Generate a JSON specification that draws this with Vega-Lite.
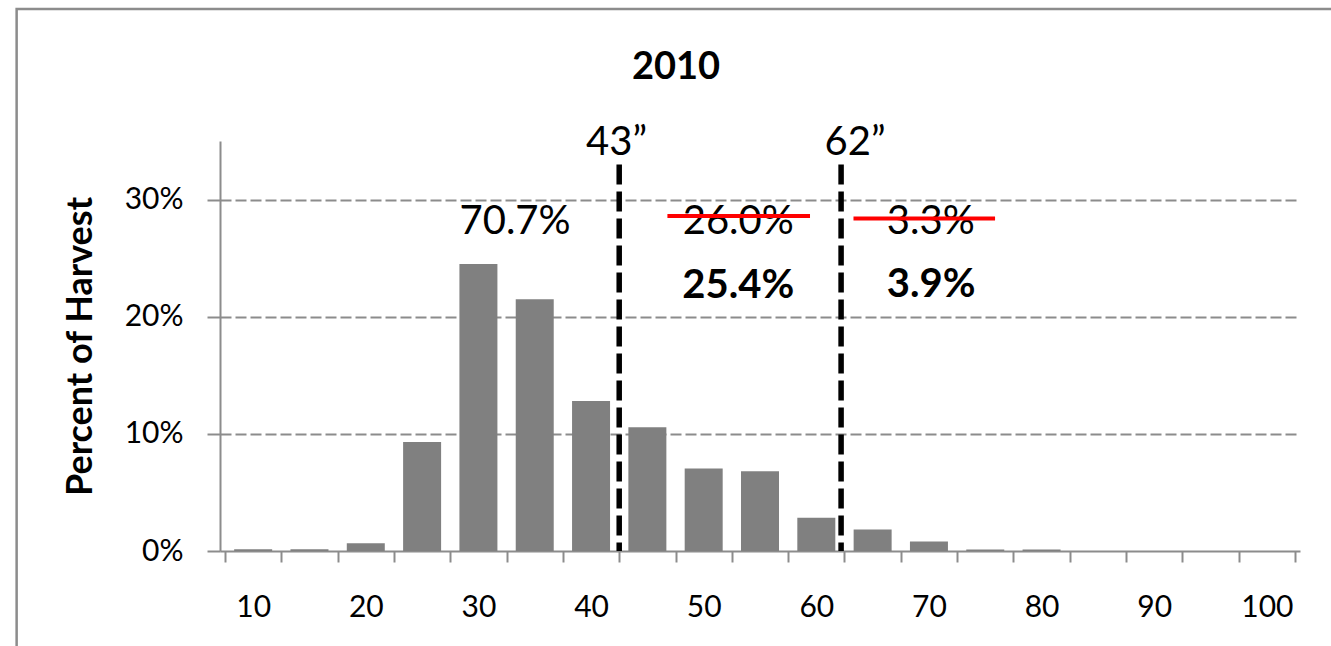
{
  "$schema": "https://vega.github.io/schema/vega-lite/v6.json",
  "width": 1080,
  "height": 410,
  "autosize": {"type": "none"},
  "padding": {"left": 220, "top": 141, "right": 31, "bottom": 95},
  "background": "white",
  "title": {"text": "2010", "font": "Lato", "fontSize": 38, "fontWeight": "bold", "color": "black", "anchor": "middle", "frame": "group", "dx": -84, "baseline": "alphabetic", "offset": -108.75},
  "config": {"view": {"stroke": null}},
  "layer": [
    {
      "data": {"values": [{"frame": "border"}]},
      "mark": {"type": "rect", "fill": null, "stroke": "#8c8c8c", "strokeWidth": 2.5, "clip": false},
      "encoding": {
        "x": {"datum": -11, "type": "quantitative"},
        "x2": {"datum": 106},
        "y": {"datum": 0.4626, "type": "quantitative"},
        "y2": {"datum": -0.093}
      }
    },
    {
      "data": {"values": [
        {"length": 10, "pct": 0.0016},
        {"length": 15, "pct": 0.0016},
        {"length": 20, "pct": 0.0066},
        {"length": 25, "pct": 0.093},
        {"length": 30, "pct": 0.245},
        {"length": 35, "pct": 0.215},
        {"length": 40, "pct": 0.128},
        {"length": 45, "pct": 0.1056},
        {"length": 50, "pct": 0.0705},
        {"length": 55, "pct": 0.068},
        {"length": 60, "pct": 0.0284},
        {"length": 65, "pct": 0.0184},
        {"length": 70, "pct": 0.0082},
        {"length": 75, "pct": 0.0012},
        {"length": 80, "pct": 0.0012},
        {"length": 85, "pct": 0},
        {"length": 90, "pct": 0},
        {"length": 95, "pct": 0},
        {"length": 100, "pct": 0}
      ]},
      "mark": {"type": "bar", "width": 38, "orient": "vertical", "fill": "#808080"},
      "encoding": {
        "x": {
          "field": "length", "type": "quantitative",
          "scale": {"domain": [7.5, 102.5], "nice": false, "zero": false},
          "axis": {
            "title": null,
            "values": [7.5, 10, 12.5, 17.5, 20, 22.5, 27.5, 30, 32.5, 37.5, 40, 42.5, 47.5, 50, 52.5, 57.5, 60, 62.5, 67.5, 70, 72.5, 77.5, 80, 82.5, 87.5, 90, 92.5, 97.5, 100, 102.5],
            "tickCount": 100,
            "grid": false,
            "domainColor": "#8c8c8c", "domainWidth": 2,
            "tickColor": "#8c8c8c", "tickWidth": 2, "tickSize": 11,
            "tickOpacity": {"condition": {"test": "datum.value % 10 == 0", "value": 0}, "value": 1},
            "labelExpr": "datum.value % 10 == 0 ? datum.label : ''",
            "labelFont": "Lato", "labelFontSize": 30, "labelColor": "black",
            "labelPadding": 30, "labelOverlap": false, "labelFlush": false
          }
        },
        "y": {
          "field": "pct", "type": "quantitative",
          "scale": {"domain": [0, 0.35], "nice": false},
          "axis": {
            "title": "Percent of Harvest",
            "values": [0, 0.1, 0.2, 0.3],
            "format": ".0%",
            "grid": true, "gridDash": [11, 4], "gridColor": "#8c8c8c", "gridWidth": 2,
            "gridOpacity": {"condition": {"test": "datum.value == 0", "value": 0}, "value": 1},
            "domainColor": "#8c8c8c", "domainWidth": 2,
            "tickColor": "#8c8c8c", "tickWidth": 2, "tickSize": 13,
            "labelFont": "Lato", "labelFontSize": 30, "labelColor": "black", "labelPadding": 24,
            "titleFont": "Lato", "titleFontSize": 36, "titleFontWeight": "bold", "titleColor": "black", "titlePadding": 25
          }
        }
      }
    },
    {
      "data": {"values": [
        {"cut": 42.5, "name": "43\""},
        {"cut": 62.2, "name": "62\""}
      ]},
      "mark": {"type": "rule", "color": "black", "strokeWidth": 5.5, "strokeDash": [20, 7]},
      "encoding": {
        "x": {"field": "cut", "type": "quantitative"},
        "y": {"datum": 0.33, "type": "quantitative"},
        "y2": {"datum": 0.0}
      }
    },
    {
      "data": {"values": [
        {"tx": 42.26, "ty": 0.338, "label": "43”"},
        {"tx": 63.44, "ty": 0.338, "label": "62”"},
        {"tx": 33.25, "ty": 0.271, "label": "70.7%"},
        {"tx": 53.07, "ty": 0.271, "label": "26.0%"},
        {"tx": 70.16, "ty": 0.271, "label": "3.3%"}
      ]},
      "mark": {"type": "text", "font": "Lato", "fontSize": 40, "color": "black", "align": "center", "baseline": "alphabetic"},
      "encoding": {
        "x": {"field": "tx", "type": "quantitative"},
        "y": {"field": "ty", "type": "quantitative"},
        "text": {"field": "label"}
      }
    },
    {
      "data": {"values": [
        {"tx": 53.07, "ty": 0.2158, "label": "25.4%"},
        {"tx": 70.2, "ty": 0.2166, "label": "3.9%"}
      ]},
      "mark": {"type": "text", "font": "Lato", "fontSize": 40, "fontWeight": "bold", "color": "black", "align": "center", "baseline": "alphabetic"},
      "encoding": {
        "x": {"field": "tx", "type": "quantitative"},
        "y": {"field": "ty", "type": "quantitative"},
        "text": {"field": "label"}
      }
    },
    {
      "data": {"values": [
        {"from": 46.78, "to": 59.44, "level": 0.2859},
        {"from": 63.3, "to": 75.87, "level": 0.2838}
      ]},
      "mark": {"type": "rule", "color": "#ff0000", "strokeWidth": 4},
      "encoding": {
        "x": {"field": "from", "type": "quantitative"},
        "x2": {"field": "to"},
        "y": {"field": "level", "type": "quantitative"}
      }
    }
  ]
}
